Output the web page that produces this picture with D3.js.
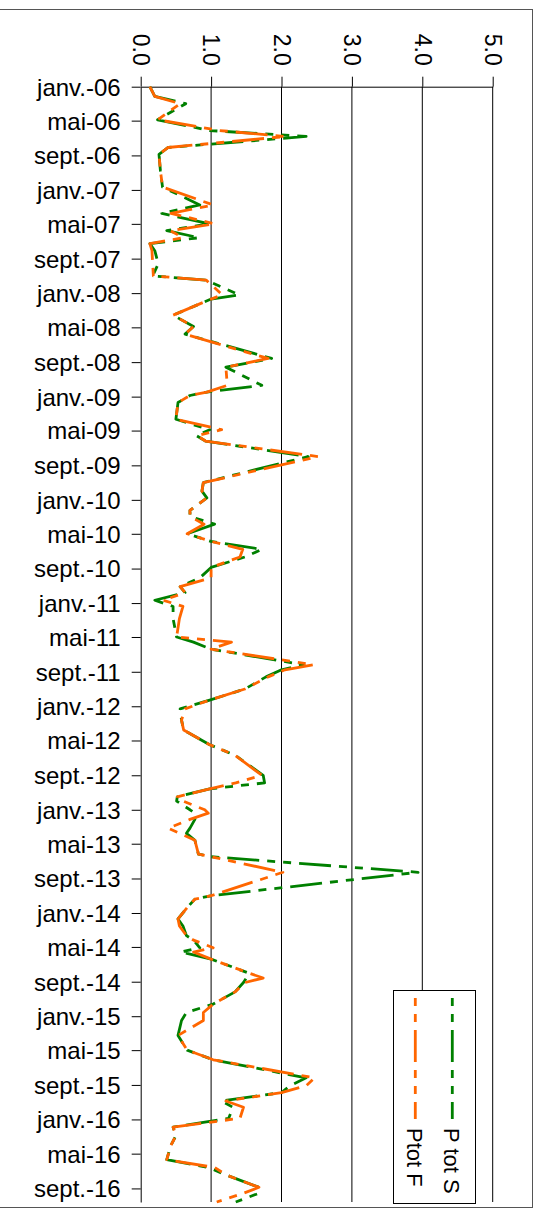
<!DOCTYPE html>
<html>
<head>
<meta charset="utf-8">
<script src="https://cdn.jsdelivr.net/npm/d3@7"></script>
<style>
  body { margin: 0; background: #fff; }
  svg { display: block; }
</style>
</head>
<body>
<svg id="chart" width="542" height="1210"></svg>
<script>
// libellés des mois (axe des dates)
var monthNames = ["janv.","févr.","mars","avr.","mai","juin","juil.","août","sept.","oct.","nov.","déc."];
var valueTicks = [0, 1, 2, 3, 4, 5];
var seriesNames = ["P tot S", "Ptot F"];

// dates des prélèvements
var dates = [
  "2006-01-01","2006-02-04","2006-03-02","2006-04-28","2006-06-05","2006-06-26","2006-08-04","2006-08-28",
  "2006-10-25","2006-12-22","2007-02-23","2007-03-25","2007-05-01","2007-05-25","2007-06-19","2007-07-10",
  "2007-08-04","2007-09-19","2007-11-01","2007-11-16","2008-01-07","2008-01-22","2008-03-19","2008-04-28",
  "2008-05-25","2008-08-19","2008-09-19","2008-11-22","2008-12-16","2008-12-28","2009-01-22","2009-03-22",
  "2009-04-28","2009-05-19","2009-06-07","2009-08-01","2009-11-01","2009-12-01","2009-12-25","2010-02-07",
  "2010-03-01","2010-03-28","2010-05-01","2010-05-28","2010-06-25","2010-07-22","2010-08-28","2010-10-04",
  "2010-11-04","2010-11-25","2010-12-22","2011-01-13","2011-02-25","2011-05-01","2011-05-19","2011-06-13",
  "2011-08-07","2011-08-25","2011-09-19","2011-11-01","2011-12-10","2012-01-10","2012-02-19","2012-03-25",
  "2012-05-16","2012-06-22","2012-09-01","2012-09-28","2012-10-19","2012-11-16","2012-12-01","2013-01-01",
  "2013-01-13","2013-02-04","2013-03-07","2013-03-25","2013-04-19","2013-06-07","2013-06-16","2013-08-10",
  "2013-11-01","2013-11-13","2013-12-13","2014-01-22","2014-02-16","2014-03-22","2014-04-07","2014-05-04",
  "2014-05-19","2014-06-13","2014-08-01","2014-08-19","2014-09-04","2014-10-07","2014-11-19","2014-12-19",
  "2015-01-16","2015-03-10","2015-05-01","2015-06-04","2015-08-07","2015-09-04","2015-09-28","2015-10-28",
  "2015-11-19","2015-12-28","2016-01-28","2016-02-28","2016-04-01","2016-05-22","2016-06-19","2016-07-16",
  "2016-08-28","2016-09-19","2016-10-19"
];

// P tot S (vert)
var pTotS = [
  0.13,0.20,0.64,0.24,0.98,2.35,0.39,0.26,
  0.28,0.31,0.84,0.30,0.98,0.37,0.83,0.13,
  0.20,0.25,0.17,0.93,1.40,1.00,0.46,0.75,
  0.63,1.86,1.21,1.72,0.94,0.70,0.53,0.50,
  0.98,0.79,0.92,2.38,0.89,0.87,0.94,0.70,
  0.70,1.05,0.66,1.00,1.72,1.48,1.00,0.84,
  0.56,0.63,0.20,0.46,0.46,0.51,0.75,1.00,
  2.31,2.00,1.78,1.48,0.98,0.56,0.58,0.61,
  0.98,1.34,1.74,1.76,0.98,0.52,0.51,0.70,
  0.77,0.77,0.70,0.65,0.77,0.82,1.00,3.94,
  1.00,0.77,0.66,0.53,0.60,0.65,0.75,0.84,
  0.57,1.00,1.53,1.50,1.46,1.34,1.03,0.65,
  0.58,0.53,0.66,1.03,2.35,2.12,2.00,1.15,
  1.31,1.25,0.46,0.50,0.43,0.37,0.96,1.22,
  1.68,1.67,1.35
];

// Ptot F (orange)
var pTotF = [
  0.13,0.20,0.56,0.24,1.12,2.06,0.39,0.26,
  0.28,0.31,1.03,0.43,1.05,0.42,0.60,0.13,
  0.16,0.17,0.18,0.93,1.16,1.00,0.46,0.75,
  0.63,1.81,1.21,1.23,0.94,0.70,0.53,0.50,
  1.15,0.80,0.92,2.52,0.89,0.87,0.94,0.70,
  0.70,0.90,0.66,1.00,1.45,1.41,1.00,1.00,
  0.56,0.63,0.32,0.60,0.55,0.51,1.29,1.00,
  2.45,2.05,1.81,1.48,0.98,0.63,0.58,0.61,
  0.98,1.34,1.72,1.35,0.98,0.52,0.60,0.91,
  0.96,0.70,0.39,0.55,0.77,0.82,1.00,2.02,
  1.00,0.77,0.66,0.53,0.55,0.65,0.75,1.03,
  0.75,1.00,1.53,1.74,1.48,1.34,1.03,0.89,
  0.89,0.53,0.66,1.03,2.47,2.35,2.00,1.21,
  1.46,1.41,0.46,0.50,0.43,0.37,1.05,1.22,
  1.68,1.45,1.08
];

var green = "#008000", orange = "#ff6600";
var dash = "32,8,8,8,8,8";
var font = "'Liberation Sans', Arial, sans-serif";

var parse = d3.timeParse("%Y-%m-%d");
var dd = dates.map(parse);

var svg = d3.select("#chart");

// cadre extérieur
svg.append("rect")
  .attr("x", -5).attr("y", 9.5)
  .attr("width", 537.5).attr("height", 1198)
  .attr("fill", "none").attr("stroke", "#555").attr("stroke-width", 1);

var x = d3.scaleLinear().domain([0, 5]).range([140.7, 492.7]);
var y = d3.scaleTime().domain([dd[0], dd[dd.length - 1]]).range([86.7, 1202]);

// grille verticale
svg.append("g")
  .selectAll("line")
  .data(valueTicks.slice(1))
  .enter()
  .append("line")
  .attr("x1", function(d){ return x(d); })
  .attr("x2", function(d){ return x(d); })
  .attr("y1", y.range()[0])
  .attr("y2", y.range()[1])
  .attr("stroke", "#000")
  .attr("stroke-width", 1);

// axe des valeurs (en haut, étiquettes tournées)
var gx = svg.append("g")
  .attr("transform", "translate(0," + y.range()[0] + ")")
  .call(d3.axisTop(x).tickValues(valueTicks).tickFormat(d3.format(".1f")).tickSize(10).tickSizeOuter(0));
gx.attr("font-size", 23).attr("font-family", font);
gx.selectAll("path, line").attr("stroke", "#000");
gx.selectAll("text")
  .attr("fill", "#000")
  .attr("transform", "rotate(90)")
  .attr("x", -21)
  .attr("y", 0)
  .attr("dy", "0.36em")
  .attr("text-anchor", "end");

// axe des dates (à gauche)
var gy = svg.append("g")
  .attr("transform", "translate(" + x(0) + ",0)")
  .call(d3.axisLeft(y)
    .ticks(d3.timeMonth.every(4))
    .tickFormat(function(d){ return monthNames[d.getMonth()] + "-" + d3.timeFormat("%y")(d); })
    .tickSize(9).tickSizeOuter(0));
gy.attr("font-size", 24).attr("font-family", font);
gy.selectAll("path, line").attr("stroke", "#000");
gy.selectAll("text").attr("fill", "#000").attr("x", -20).attr("dy", "0.35em");

// courbes
var line = d3.line()
  .x(function(d){ return x(d.v); })
  .y(function(d){ return y(d.t); });

[[pTotS, green], [pTotF, orange]].forEach(function(s){
  svg.append("path")
    .datum(s[0].map(function(v, i){ return {t: dd[i], v: v}; }))
    .attr("d", line)
    .attr("fill", "none")
    .attr("stroke", s[1])
    .attr("stroke-width", 2.8)
    .attr("stroke-dasharray", dash)
    .attr("stroke-linejoin", "round");
});

// légende
var lg = svg.append("g");
lg.append("rect")
  .attr("x", 393.5).attr("y", 990.5)
  .attr("width", 82).attr("height", 213)
  .attr("fill", "#fff").attr("stroke", "#000");

var legX = [452.3, 415.3];
var legCol = [green, orange];
seriesNames.forEach(function(name, i){
  lg.append("line")
    .attr("x1", legX[i]).attr("x2", legX[i])
    .attr("y1", 998).attr("y2", 1119)
    .attr("stroke", legCol[i])
    .attr("stroke-width", 2.8)
    .attr("stroke-dasharray", dash)
    .attr("stroke-dashoffset", 40);
  lg.append("text")
    .attr("transform", "translate(" + legX[i] + ",1128) rotate(90)")
    .attr("dy", "0.36em")
    .attr("font-size", 22)
    .attr("font-family", font)
    .attr("fill", "#000")
    .text(name);
});
</script>
</body>
</html>
